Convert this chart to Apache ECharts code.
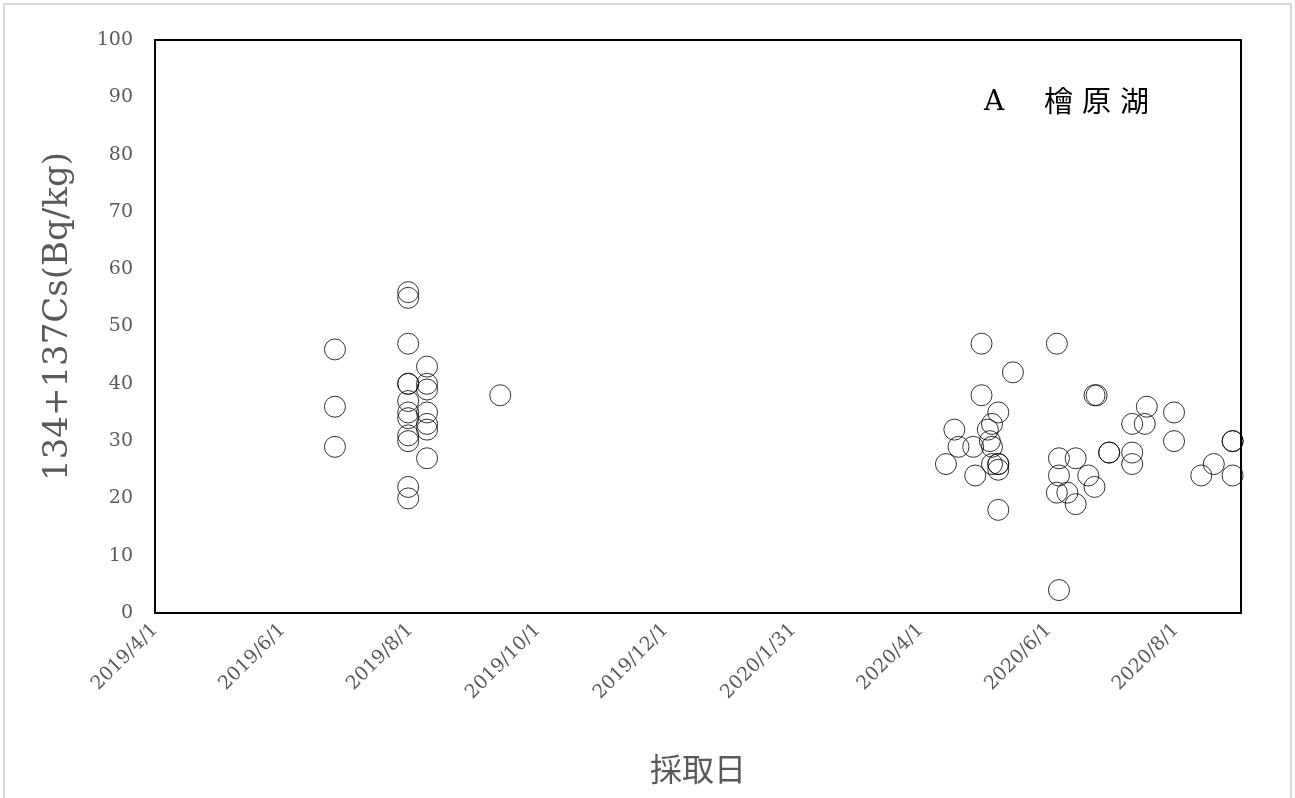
<!DOCTYPE html>
<html><head><meta charset="utf-8">
<script src="https://cdn.jsdelivr.net/npm/echarts@6/dist/echarts.min.js"></script>
<style>html,body{margin:0;padding:0;background:#fff}#c{width:1295px;height:798px}</style>
</head><body><div id="c"></div>
<script>
// Axis range and tick step (days)
const axisStart = '2019-04-01';
const axisEnd = '2020-09-01';
const tickStepDays = 61;
const lastTickDay = 488;

// Sampling dates and 134+137Cs values (Bq/kg)
const sampleDates = [
  '2019-06-26','2019-06-26','2019-06-26',
  '2019-07-31','2019-07-31','2019-07-31','2019-07-31','2019-07-31','2019-07-31',
  '2019-07-31','2019-07-31','2019-07-31','2019-07-31','2019-07-31','2019-07-31',
  '2019-08-09','2019-08-09','2019-08-09','2019-08-09','2019-08-09','2019-08-09','2019-08-09',
  '2019-09-13',
  '2020-04-13','2020-04-17','2020-04-19','2020-04-26','2020-04-27',
  '2020-04-30','2020-04-30',
  '2020-05-03','2020-05-04',
  '2020-05-05','2020-05-05','2020-05-05',
  '2020-05-08','2020-05-08','2020-05-08','2020-05-08','2020-05-08',
  '2020-05-15',
  '2020-06-05','2020-06-05',
  '2020-06-06','2020-06-06','2020-06-06',
  '2020-06-10',
  '2020-06-14','2020-06-14',
  '2020-06-20','2020-06-23','2020-06-23','2020-06-24',
  '2020-06-30','2020-06-30',
  '2020-07-11','2020-07-11','2020-07-11',
  '2020-07-17','2020-07-18',
  '2020-07-31','2020-07-31',
  '2020-08-13','2020-08-19',
  '2020-08-28','2020-08-28','2020-08-28'
];
const csValues = [
  46, 36, 29,
  56, 55, 47, 40, 40, 37,
  35, 34, 31, 30, 22, 20,
  43, 40, 39, 35, 33, 32, 27,
  38,
  26, 32, 29, 29, 24,
  47, 38,
  32, 30,
  33, 29, 26,
  35, 26, 26, 25, 18,
  42,
  47, 21,
  27, 24, 4,
  21,
  27, 19,
  24, 22, 38, 38,
  28, 28,
  33, 28, 26,
  33, 36,
  35, 30,
  24, 26,
  30, 30, 24
];

const DAY = 86400000;
const t0 = Date.parse(axisStart);
const dayOf = d => Math.round((Date.parse(d) - t0) / DAY);
const points = sampleDates.map((d, i) => [dayOf(d), csValues[i]]);

const serif = '"DejaVu Serif", "Liberation Serif", serif';
const cjk = '"Noto Sans CJK JP", sans-serif';
const chart = echarts.init(document.getElementById('c'), null, {renderer: 'canvas'});
chart.setOption({
  backgroundColor: '#fff',
  animation: false,
  grid: {left: 155, top: 40, right: 54, bottom: 185, show: true, borderColor: '#000', borderWidth: 2, backgroundColor: 'transparent'},
  xAxis: {
    type: 'value', min: 0, max: dayOf(axisEnd), interval: tickStepDays,
    axisLine: {show: false}, axisTick: {show: false}, splitLine: {show: false},
    axisLabel: {
      rotate: 45, margin: 14, color: '#595959', fontFamily: serif, fontSize: 19,
      showMaxLabel: false,
      formatter: v => {
        if (v % tickStepDays !== 0 || v > lastTickDay) return '';
        const dt = new Date(t0 + v * DAY);
        return dt.getUTCFullYear() + '/' + (dt.getUTCMonth() + 1) + '/' + dt.getUTCDate();
      }
    },
    name: '採取日', nameLocation: 'middle', nameGap: 140,
    nameTextStyle: {color: '#595959', fontSize: 32, fontFamily: cjk}
  },
  yAxis: {
    type: 'value', min: 0, max: 100, interval: 10,
    axisLine: {show: false}, axisTick: {show: false}, splitLine: {show: false},
    axisLabel: {margin: 22, color: '#595959', fontFamily: serif, fontSize: 19},
    name: '134+137Cs(Bq/kg)', nameLocation: 'middle', nameGap: 80,
    nameTextStyle: {color: '#595959', fontSize: 34, fontFamily: serif, padding: [0, 0, 0, 20]}
  },
  graphic: [
    {type: 'rect', silent: true, z: -10, shape: {x: 4, y: 4, width: 1287, height: 820},
     style: {fill: 'none', stroke: '#d9d9d9', lineWidth: 2}},
    {type: 'text', left: 984, top: 89, style: {text: 'A', fill: '#000', font: '28px "DejaVu Serif", serif'}},
    {type: 'text', left: 1044, top: 86, style: {text: '檜', fill: '#000', font: '29px "Noto Sans CJK JP", sans-serif'}},
    {type: 'text', left: 1082, top: 86, style: {text: '原', fill: '#000', font: '29px "Noto Sans CJK JP", sans-serif'}},
    {type: 'text', left: 1120, top: 86, style: {text: '湖', fill: '#000', font: '29px "Noto Sans CJK JP", sans-serif'}}
  ],
  series: [{
    type: 'scatter', data: points, symbol: 'circle', symbolSize: 21,
    itemStyle: {color: 'rgba(0,0,0,0)', borderColor: '#000', borderWidth: 1}
  }]
});
</script></body></html>
